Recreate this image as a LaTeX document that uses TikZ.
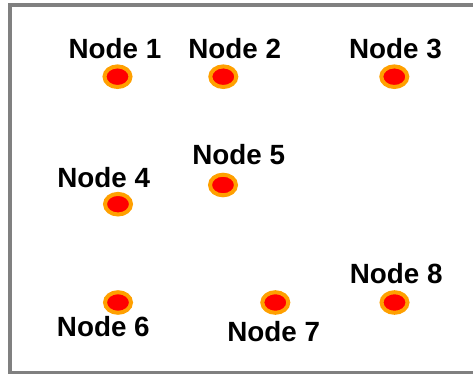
\documentclass[tikz,border=0pt]{standalone}
\usepackage{fontspec}
\setmainfont{Liberation Sans}
\definecolor{frame}{RGB}{128,128,128}
\definecolor{dotfill}{RGB}{255,0,0}
\definecolor{dotring}{RGB}{255,160,0}
\tikzset{
  dot/.style={ellipse, minimum width=0pt, inner sep=0pt, fill=dotfill, draw=dotring, line width=4pt, x radius=13pt, y radius=10.3pt},
  lab/.style={anchor=base, inner sep=0pt, font=\fontsize{27.8}{30}\selectfont\bfseries}
}
\usetikzlibrary{shapes.geometric}
\begin{document}
\begin{tikzpicture}[x=1pt,y=-1pt]
\useasboundingbox (0,0) rectangle (473,374);
\draw[frame, line width=4pt] (10,5) rectangle (480,373);
% dots drawn as ellipses
\foreach \n/\x/\y in {1/117.5/76.7, 2/223.3/76.7, 3/394.3/76.7, 4/118/204.2, 5/223/185, 6/118/302.5, 7/275.3/302.5, 8/394.5/302.5} {
  \coordinate (dot\n) at (\x,\y);
  \draw[fill=dotfill, draw=dotring, line width=4pt] (dot\n) ellipse [x radius=13, y radius=10.3];
}
\node[lab] (lab1) at (115,58.3) {Node 1};
\node[lab] (lab2) at (234.7,58.3) {Node 2};
\node[lab] (lab3) at (395.5,58.3) {Node 3};
\node[lab] (lab4) at (103.7,187.3) {Node 4};
\node[lab] (lab5) at (238.7,164.3) {Node 5};
\node[lab] (lab6) at (103.3,336.7) {Node 6};
\node[lab] (lab7) at (273.7,341.7) {Node 7};
\node[lab] (lab8) at (396.2,283.3) {Node 8};
\end{tikzpicture}
\end{document}
